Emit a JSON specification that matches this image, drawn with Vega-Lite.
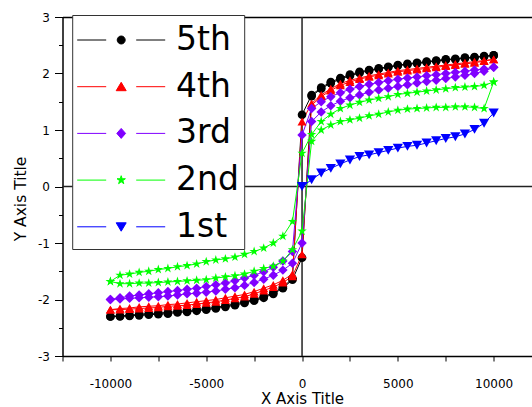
{
"$schema":"https://vega.github.io/schema/vega-lite/v6.json",
"width":469.5,"height":339,
"autosize":{"type":"none"},
"padding":{"left":62.5,"top":17,"right":0,"bottom":51},
"background":"white",
"config":{"view":{"stroke":null},"font":"DejaVu Sans",
 "legend":{"orient":"none","legendX":9.7,"legendY":-2,"fillColor":"white","strokeColor":"#333","strokeWidth":1,"padding":4.5,"symbolSize":1600,"symbolStrokeWidth":1,"labelFont":"DejaVu Sans","labelFontSize":33,"labelColor":"black","labelOffset":58.3,"rowPadding":8.7,"symbolOpacity":1}},
"datasets":{
"zero":[{"z":0}],
"leg":[{"s":"5th"},{"s":"4th"},{"s":"3rd"},{"s":"2nd"},{"s":"1st"}],
"pts":[
{"s":"5th","b":"d","x":10000,"y":2.32},{"s":"5th","b":"d","x":9500,"y":2.31},{"s":"5th","b":"d","x":9000,"y":2.29},{"s":"5th","b":"d","x":8500,"y":2.28},{"s":"5th","b":"d","x":8000,"y":2.26},{"s":"5th","b":"d","x":7500,"y":2.25},{"s":"5th","b":"d","x":7000,"y":2.23},{"s":"5th","b":"d","x":6500,"y":2.21},{"s":"5th","b":"d","x":6000,"y":2.19},{"s":"5th","b":"d","x":5500,"y":2.17},{"s":"5th","b":"d","x":5000,"y":2.15},{"s":"5th","b":"d","x":4500,"y":2.12},{"s":"5th","b":"d","x":4000,"y":2.09},{"s":"5th","b":"d","x":3500,"y":2.06},{"s":"5th","b":"d","x":3000,"y":2.03},{"s":"5th","b":"d","x":2500,"y":1.98},{"s":"5th","b":"d","x":2000,"y":1.92},{"s":"5th","b":"d","x":1500,"y":1.85},{"s":"5th","b":"d","x":1000,"y":1.75},{"s":"5th","b":"d","x":500,"y":1.62},{"s":"5th","b":"d","x":0,"y":1.27},{"s":"5th","b":"d","x":-500,"y":-1.63},{"s":"5th","b":"d","x":-1000,"y":-1.78},{"s":"5th","b":"d","x":-1500,"y":-1.88},{"s":"5th","b":"d","x":-2000,"y":-1.95},{"s":"5th","b":"d","x":-2500,"y":-2.0},{"s":"5th","b":"d","x":-3000,"y":-2.04},{"s":"5th","b":"d","x":-3500,"y":-2.08},{"s":"5th","b":"d","x":-4000,"y":-2.11},{"s":"5th","b":"d","x":-4500,"y":-2.14},{"s":"5th","b":"d","x":-5000,"y":-2.16},{"s":"5th","b":"d","x":-5500,"y":-2.18},{"s":"5th","b":"d","x":-6000,"y":-2.2},{"s":"5th","b":"d","x":-6500,"y":-2.21},{"s":"5th","b":"d","x":-7000,"y":-2.23},{"s":"5th","b":"d","x":-7500,"y":-2.24},{"s":"5th","b":"d","x":-8000,"y":-2.25},{"s":"5th","b":"d","x":-8500,"y":-2.26},{"s":"5th","b":"d","x":-9000,"y":-2.28},{"s":"5th","b":"d","x":-9500,"y":-2.29},{"s":"5th","b":"d","x":-10000,"y":-2.3},
{"s":"5th","b":"a","x":-10000,"y":-2.3},{"s":"5th","b":"a","x":-9500,"y":-2.3},{"s":"5th","b":"a","x":-9000,"y":-2.29},{"s":"5th","b":"a","x":-8500,"y":-2.28},{"s":"5th","b":"a","x":-8000,"y":-2.27},{"s":"5th","b":"a","x":-7500,"y":-2.26},{"s":"5th","b":"a","x":-7000,"y":-2.25},{"s":"5th","b":"a","x":-6500,"y":-2.23},{"s":"5th","b":"a","x":-6000,"y":-2.22},{"s":"5th","b":"a","x":-5500,"y":-2.2},{"s":"5th","b":"a","x":-5000,"y":-2.18},{"s":"5th","b":"a","x":-4500,"y":-2.16},{"s":"5th","b":"a","x":-4000,"y":-2.13},{"s":"5th","b":"a","x":-3500,"y":-2.1},{"s":"5th","b":"a","x":-3000,"y":-2.06},{"s":"5th","b":"a","x":-2500,"y":-2.02},{"s":"5th","b":"a","x":-2000,"y":-1.97},{"s":"5th","b":"a","x":-1500,"y":-1.9},{"s":"5th","b":"a","x":-1000,"y":-1.8},{"s":"5th","b":"a","x":-500,"y":-1.65},{"s":"5th","b":"a","x":0,"y":-1.26},{"s":"5th","b":"a","x":500,"y":1.6},{"s":"5th","b":"a","x":1000,"y":1.73},{"s":"5th","b":"a","x":1500,"y":1.83},{"s":"5th","b":"a","x":2000,"y":1.9},{"s":"5th","b":"a","x":2500,"y":1.96},{"s":"5th","b":"a","x":3000,"y":2.01},{"s":"5th","b":"a","x":3500,"y":2.05},{"s":"5th","b":"a","x":4000,"y":2.08},{"s":"5th","b":"a","x":4500,"y":2.11},{"s":"5th","b":"a","x":5000,"y":2.14},{"s":"5th","b":"a","x":5500,"y":2.16},{"s":"5th","b":"a","x":6000,"y":2.18},{"s":"5th","b":"a","x":6500,"y":2.2},{"s":"5th","b":"a","x":7000,"y":2.22},{"s":"5th","b":"a","x":7500,"y":2.24},{"s":"5th","b":"a","x":8000,"y":2.25},{"s":"5th","b":"a","x":8500,"y":2.27},{"s":"5th","b":"a","x":9000,"y":2.28},{"s":"5th","b":"a","x":9500,"y":2.3},{"s":"5th","b":"a","x":10000,"y":2.32},
{"s":"4th","b":"d","x":10000,"y":2.25},{"s":"4th","b":"d","x":9500,"y":2.23},{"s":"4th","b":"d","x":9000,"y":2.21},{"s":"4th","b":"d","x":8500,"y":2.19},{"s":"4th","b":"d","x":8000,"y":2.17},{"s":"4th","b":"d","x":7500,"y":2.15},{"s":"4th","b":"d","x":7000,"y":2.13},{"s":"4th","b":"d","x":6500,"y":2.11},{"s":"4th","b":"d","x":6000,"y":2.09},{"s":"4th","b":"d","x":5500,"y":2.07},{"s":"4th","b":"d","x":5000,"y":2.05},{"s":"4th","b":"d","x":4500,"y":2.02},{"s":"4th","b":"d","x":4000,"y":1.99},{"s":"4th","b":"d","x":3500,"y":1.96},{"s":"4th","b":"d","x":3000,"y":1.92},{"s":"4th","b":"d","x":2500,"y":1.88},{"s":"4th","b":"d","x":2000,"y":1.82},{"s":"4th","b":"d","x":1500,"y":1.73},{"s":"4th","b":"d","x":1000,"y":1.62},{"s":"4th","b":"d","x":500,"y":1.47},{"s":"4th","b":"d","x":0,"y":1.15},{"s":"4th","b":"d","x":-500,"y":-1.55},{"s":"4th","b":"d","x":-1000,"y":-1.66},{"s":"4th","b":"d","x":-1500,"y":-1.74},{"s":"4th","b":"d","x":-2000,"y":-1.8},{"s":"4th","b":"d","x":-2500,"y":-1.86},{"s":"4th","b":"d","x":-3000,"y":-1.91},{"s":"4th","b":"d","x":-3500,"y":-1.94},{"s":"4th","b":"d","x":-4000,"y":-1.97},{"s":"4th","b":"d","x":-4500,"y":-2.0},{"s":"4th","b":"d","x":-5000,"y":-2.02},{"s":"4th","b":"d","x":-5500,"y":-2.04},{"s":"4th","b":"d","x":-6000,"y":-2.06},{"s":"4th","b":"d","x":-6500,"y":-2.08},{"s":"4th","b":"d","x":-7000,"y":-2.09},{"s":"4th","b":"d","x":-7500,"y":-2.11},{"s":"4th","b":"d","x":-8000,"y":-2.12},{"s":"4th","b":"d","x":-8500,"y":-2.13},{"s":"4th","b":"d","x":-9000,"y":-2.15},{"s":"4th","b":"d","x":-9500,"y":-2.16},{"s":"4th","b":"d","x":-10000,"y":-2.18},
{"s":"4th","b":"a","x":-10000,"y":-2.18},{"s":"4th","b":"a","x":-9500,"y":-2.18},{"s":"4th","b":"a","x":-9000,"y":-2.17},{"s":"4th","b":"a","x":-8500,"y":-2.16},{"s":"4th","b":"a","x":-8000,"y":-2.15},{"s":"4th","b":"a","x":-7500,"y":-2.14},{"s":"4th","b":"a","x":-7000,"y":-2.12},{"s":"4th","b":"a","x":-6500,"y":-2.11},{"s":"4th","b":"a","x":-6000,"y":-2.1},{"s":"4th","b":"a","x":-5500,"y":-2.08},{"s":"4th","b":"a","x":-5000,"y":-2.06},{"s":"4th","b":"a","x":-4500,"y":-2.04},{"s":"4th","b":"a","x":-4000,"y":-2.01},{"s":"4th","b":"a","x":-3500,"y":-1.98},{"s":"4th","b":"a","x":-3000,"y":-1.95},{"s":"4th","b":"a","x":-2500,"y":-1.9},{"s":"4th","b":"a","x":-2000,"y":-1.84},{"s":"4th","b":"a","x":-1500,"y":-1.78},{"s":"4th","b":"a","x":-1000,"y":-1.7},{"s":"4th","b":"a","x":-500,"y":-1.59},{"s":"4th","b":"a","x":0,"y":-1.2},{"s":"4th","b":"a","x":500,"y":1.44},{"s":"4th","b":"a","x":1000,"y":1.59},{"s":"4th","b":"a","x":1500,"y":1.7},{"s":"4th","b":"a","x":2000,"y":1.79},{"s":"4th","b":"a","x":2500,"y":1.85},{"s":"4th","b":"a","x":3000,"y":1.9},{"s":"4th","b":"a","x":3500,"y":1.94},{"s":"4th","b":"a","x":4000,"y":1.97},{"s":"4th","b":"a","x":4500,"y":2.0},{"s":"4th","b":"a","x":5000,"y":2.03},{"s":"4th","b":"a","x":5500,"y":2.05},{"s":"4th","b":"a","x":6000,"y":2.07},{"s":"4th","b":"a","x":6500,"y":2.09},{"s":"4th","b":"a","x":7000,"y":2.11},{"s":"4th","b":"a","x":7500,"y":2.13},{"s":"4th","b":"a","x":8000,"y":2.15},{"s":"4th","b":"a","x":8500,"y":2.17},{"s":"4th","b":"a","x":9000,"y":2.19},{"s":"4th","b":"a","x":9500,"y":2.22},{"s":"4th","b":"a","x":10000,"y":2.25},
{"s":"3rd","b":"d","x":10000,"y":2.11},{"s":"3rd","b":"d","x":9500,"y":2.08},{"s":"3rd","b":"d","x":9000,"y":2.06},{"s":"3rd","b":"d","x":8500,"y":2.04},{"s":"3rd","b":"d","x":8000,"y":2.02},{"s":"3rd","b":"d","x":7500,"y":2.0},{"s":"3rd","b":"d","x":7000,"y":1.98},{"s":"3rd","b":"d","x":6500,"y":1.96},{"s":"3rd","b":"d","x":6000,"y":1.94},{"s":"3rd","b":"d","x":5500,"y":1.92},{"s":"3rd","b":"d","x":5000,"y":1.9},{"s":"3rd","b":"d","x":4500,"y":1.87},{"s":"3rd","b":"d","x":4000,"y":1.84},{"s":"3rd","b":"d","x":3500,"y":1.81},{"s":"3rd","b":"d","x":3000,"y":1.77},{"s":"3rd","b":"d","x":2500,"y":1.72},{"s":"3rd","b":"d","x":2000,"y":1.66},{"s":"3rd","b":"d","x":1500,"y":1.59},{"s":"3rd","b":"d","x":1000,"y":1.5},{"s":"3rd","b":"d","x":500,"y":1.38},{"s":"3rd","b":"d","x":0,"y":0.91},{"s":"3rd","b":"d","x":-500,"y":-1.15},{"s":"3rd","b":"d","x":-1000,"y":-1.32},{"s":"3rd","b":"d","x":-1500,"y":-1.43},{"s":"3rd","b":"d","x":-2000,"y":-1.51},{"s":"3rd","b":"d","x":-2500,"y":-1.57},{"s":"3rd","b":"d","x":-3000,"y":-1.62},{"s":"3rd","b":"d","x":-3500,"y":-1.67},{"s":"3rd","b":"d","x":-4000,"y":-1.71},{"s":"3rd","b":"d","x":-4500,"y":-1.74},{"s":"3rd","b":"d","x":-5000,"y":-1.77},{"s":"3rd","b":"d","x":-5500,"y":-1.8},{"s":"3rd","b":"d","x":-6000,"y":-1.82},{"s":"3rd","b":"d","x":-6500,"y":-1.84},{"s":"3rd","b":"d","x":-7000,"y":-1.86},{"s":"3rd","b":"d","x":-7500,"y":-1.88},{"s":"3rd","b":"d","x":-8000,"y":-1.9},{"s":"3rd","b":"d","x":-8500,"y":-1.92},{"s":"3rd","b":"d","x":-9000,"y":-1.94},{"s":"3rd","b":"d","x":-9500,"y":-1.97},{"s":"3rd","b":"d","x":-10000,"y":-2.0},
{"s":"3rd","b":"a","x":-10000,"y":-2.0},{"s":"3rd","b":"a","x":-9500,"y":-1.99},{"s":"3rd","b":"a","x":-9000,"y":-1.98},{"s":"3rd","b":"a","x":-8500,"y":-1.97},{"s":"3rd","b":"a","x":-8000,"y":-1.96},{"s":"3rd","b":"a","x":-7500,"y":-1.95},{"s":"3rd","b":"a","x":-7000,"y":-1.94},{"s":"3rd","b":"a","x":-6500,"y":-1.92},{"s":"3rd","b":"a","x":-6000,"y":-1.9},{"s":"3rd","b":"a","x":-5500,"y":-1.89},{"s":"3rd","b":"a","x":-5000,"y":-1.87},{"s":"3rd","b":"a","x":-4500,"y":-1.85},{"s":"3rd","b":"a","x":-4000,"y":-1.82},{"s":"3rd","b":"a","x":-3500,"y":-1.79},{"s":"3rd","b":"a","x":-3000,"y":-1.75},{"s":"3rd","b":"a","x":-2500,"y":-1.7},{"s":"3rd","b":"a","x":-2000,"y":-1.64},{"s":"3rd","b":"a","x":-1500,"y":-1.57},{"s":"3rd","b":"a","x":-1000,"y":-1.48},{"s":"3rd","b":"a","x":-500,"y":-1.36},{"s":"3rd","b":"a","x":0,"y":-1.0},{"s":"3rd","b":"a","x":500,"y":1.15},{"s":"3rd","b":"a","x":1000,"y":1.32},{"s":"3rd","b":"a","x":1500,"y":1.43},{"s":"3rd","b":"a","x":2000,"y":1.51},{"s":"3rd","b":"a","x":2500,"y":1.57},{"s":"3rd","b":"a","x":3000,"y":1.62},{"s":"3rd","b":"a","x":3500,"y":1.67},{"s":"3rd","b":"a","x":4000,"y":1.71},{"s":"3rd","b":"a","x":4500,"y":1.74},{"s":"3rd","b":"a","x":5000,"y":1.77},{"s":"3rd","b":"a","x":5500,"y":1.8},{"s":"3rd","b":"a","x":6000,"y":1.83},{"s":"3rd","b":"a","x":6500,"y":1.86},{"s":"3rd","b":"a","x":7000,"y":1.88},{"s":"3rd","b":"a","x":7500,"y":1.91},{"s":"3rd","b":"a","x":8000,"y":1.94},{"s":"3rd","b":"a","x":8500,"y":1.97},{"s":"3rd","b":"a","x":9000,"y":2.0},{"s":"3rd","b":"a","x":9500,"y":2.04},{"s":"3rd","b":"a","x":10000,"y":2.11},
{"s":"2nd","b":"d","x":10000,"y":1.85},{"s":"2nd","b":"d","x":9500,"y":1.79},{"s":"2nd","b":"d","x":9000,"y":1.77},{"s":"2nd","b":"d","x":8500,"y":1.76},{"s":"2nd","b":"d","x":8000,"y":1.75},{"s":"2nd","b":"d","x":7500,"y":1.73},{"s":"2nd","b":"d","x":7000,"y":1.71},{"s":"2nd","b":"d","x":6500,"y":1.69},{"s":"2nd","b":"d","x":6000,"y":1.67},{"s":"2nd","b":"d","x":5500,"y":1.65},{"s":"2nd","b":"d","x":5000,"y":1.63},{"s":"2nd","b":"d","x":4500,"y":1.59},{"s":"2nd","b":"d","x":4000,"y":1.56},{"s":"2nd","b":"d","x":3500,"y":1.53},{"s":"2nd","b":"d","x":3000,"y":1.49},{"s":"2nd","b":"d","x":2500,"y":1.44},{"s":"2nd","b":"d","x":2000,"y":1.38},{"s":"2nd","b":"d","x":1500,"y":1.28},{"s":"2nd","b":"d","x":1000,"y":1.15},{"s":"2nd","b":"d","x":500,"y":0.92},{"s":"2nd","b":"d","x":0,"y":0.59},{"s":"2nd","b":"d","x":-500,"y":-0.62},{"s":"2nd","b":"d","x":-1000,"y":-0.88},{"s":"2nd","b":"d","x":-1500,"y":-1.0},{"s":"2nd","b":"d","x":-2000,"y":-1.09},{"s":"2nd","b":"d","x":-2500,"y":-1.15},{"s":"2nd","b":"d","x":-3000,"y":-1.2},{"s":"2nd","b":"d","x":-3500,"y":-1.25},{"s":"2nd","b":"d","x":-4000,"y":-1.28},{"s":"2nd","b":"d","x":-4500,"y":-1.3},{"s":"2nd","b":"d","x":-5000,"y":-1.33},{"s":"2nd","b":"d","x":-5500,"y":-1.37},{"s":"2nd","b":"d","x":-6000,"y":-1.4},{"s":"2nd","b":"d","x":-6500,"y":-1.42},{"s":"2nd","b":"d","x":-7000,"y":-1.45},{"s":"2nd","b":"d","x":-7500,"y":-1.47},{"s":"2nd","b":"d","x":-8000,"y":-1.5},{"s":"2nd","b":"d","x":-8500,"y":-1.52},{"s":"2nd","b":"d","x":-9000,"y":-1.55},{"s":"2nd","b":"d","x":-9500,"y":-1.57},{"s":"2nd","b":"d","x":-10000,"y":-1.68},
{"s":"2nd","b":"a","x":-10000,"y":-1.68},{"s":"2nd","b":"a","x":-9500,"y":-1.72},{"s":"2nd","b":"a","x":-9000,"y":-1.72},{"s":"2nd","b":"a","x":-8500,"y":-1.71},{"s":"2nd","b":"a","x":-8000,"y":-1.71},{"s":"2nd","b":"a","x":-7500,"y":-1.7},{"s":"2nd","b":"a","x":-7000,"y":-1.69},{"s":"2nd","b":"a","x":-6500,"y":-1.68},{"s":"2nd","b":"a","x":-6000,"y":-1.67},{"s":"2nd","b":"a","x":-5500,"y":-1.66},{"s":"2nd","b":"a","x":-5000,"y":-1.65},{"s":"2nd","b":"a","x":-4500,"y":-1.62},{"s":"2nd","b":"a","x":-4000,"y":-1.6},{"s":"2nd","b":"a","x":-3500,"y":-1.58},{"s":"2nd","b":"a","x":-3000,"y":-1.55},{"s":"2nd","b":"a","x":-2500,"y":-1.5},{"s":"2nd","b":"a","x":-2000,"y":-1.45},{"s":"2nd","b":"a","x":-1500,"y":-1.41},{"s":"2nd","b":"a","x":-1000,"y":-1.32},{"s":"2nd","b":"a","x":-500,"y":-1.12},{"s":"2nd","b":"a","x":0,"y":-0.79},{"s":"2nd","b":"a","x":500,"y":0.8},{"s":"2nd","b":"a","x":1000,"y":1.0},{"s":"2nd","b":"a","x":1500,"y":1.09},{"s":"2nd","b":"a","x":2000,"y":1.15},{"s":"2nd","b":"a","x":2500,"y":1.18},{"s":"2nd","b":"a","x":3000,"y":1.21},{"s":"2nd","b":"a","x":3500,"y":1.25},{"s":"2nd","b":"a","x":4000,"y":1.28},{"s":"2nd","b":"a","x":4500,"y":1.32},{"s":"2nd","b":"a","x":5000,"y":1.35},{"s":"2nd","b":"a","x":5500,"y":1.37},{"s":"2nd","b":"a","x":6000,"y":1.38},{"s":"2nd","b":"a","x":6500,"y":1.39},{"s":"2nd","b":"a","x":7000,"y":1.4},{"s":"2nd","b":"a","x":7500,"y":1.4},{"s":"2nd","b":"a","x":8000,"y":1.41},{"s":"2nd","b":"a","x":8500,"y":1.41},{"s":"2nd","b":"a","x":9000,"y":1.4},{"s":"2nd","b":"a","x":9500,"y":1.38},{"s":"2nd","b":"a","x":10000,"y":1.85},
{"s":"1st","b":"a","x":0,"y":0.0},{"s":"1st","b":"a","x":500,"y":0.12},{"s":"1st","b":"a","x":1000,"y":0.24},{"s":"1st","b":"a","x":1500,"y":0.32},{"s":"1st","b":"a","x":2000,"y":0.4},{"s":"1st","b":"a","x":2500,"y":0.47},{"s":"1st","b":"a","x":3000,"y":0.53},{"s":"1st","b":"a","x":3500,"y":0.56},{"s":"1st","b":"a","x":4000,"y":0.6},{"s":"1st","b":"a","x":4500,"y":0.64},{"s":"1st","b":"a","x":5000,"y":0.68},{"s":"1st","b":"a","x":5500,"y":0.71},{"s":"1st","b":"a","x":6000,"y":0.73},{"s":"1st","b":"a","x":6500,"y":0.77},{"s":"1st","b":"a","x":7000,"y":0.81},{"s":"1st","b":"a","x":7500,"y":0.85},{"s":"1st","b":"a","x":8000,"y":0.88},{"s":"1st","b":"a","x":8500,"y":0.93},{"s":"1st","b":"a","x":9000,"y":1.01},{"s":"1st","b":"a","x":9500,"y":1.12},{"s":"1st","b":"a","x":10000,"y":1.3}
]},
"layer":[
 {"data":{"name":"zero"},"mark":{"type":"rule","color":"#222","strokeWidth":1.5},
  "encoding":{"y":{"field":"z","type":"quantitative","scale":{"domain":[-3,3],"nice":false},"axis":null}}},
 {"data":{"name":"zero"},"mark":{"type":"rule","color":"#222","strokeWidth":1.5},
  "encoding":{"x":{"field":"z","type":"quantitative","scale":{"domain":[-12500,12000],"nice":false,"zero":false},
   "axis":{"orient":"top","domain":true,"domainColor":"black","domainWidth":1.5,"ticks":false,"labels":false,"title":null,"grid":false}}}},
 {"data":{"name":"pts"},"mark":{"type":"line","strokeWidth":1},
  "encoding":{"x":{"field":"x","type":"quantitative","axis":null},"y":{"field":"y","type":"quantitative","axis":null},
   "color":{"field":"s","type":"nominal","scale":{"domain":["5th","4th","3rd","2nd","1st"],"range":["#000000","#ff0000","#8000ff","#00ff00","#0000ff"]},"legend":null},
   "detail":{"field":"b","type":"nominal"}}},
 {"data":{"name":"pts"},"mark":{"type":"point","filled":true,"opacity":1},
  "encoding":{
   "x":{"field":"x","type":"quantitative","axis":{"orient":"bottom","values":[-12500,-10000,-7500,-5000,-2500,0,2500,5000,7500,10000],"labelExpr":"datum.value % 5000 === 0 ? '' + datum.value : ''","grid":false,"tickSize":5,"tickColor":"black","domainColor":"black","domainWidth":1.5,"labelPadding":17,"labelFont":"DejaVu Sans","labelFontSize":12,"labelColor":"black","labelFlush":false,"labelOverlap":false,"title":"X Axis Title","titleFont":"DejaVu Sans","titleFontSize":15,"titleFontWeight":"normal","titleColor":"black","titleX":239.5,"titleY":47.8,"titleBaseline":"alphabetic","titleAlign":"center"}},
   "y":{"field":"y","type":"quantitative","axis":{"orient":"left","values":[-3,-2.5,-2,-1.5,-1,-0.5,0,0.5,1,1.5,2,2.5,3],"labelExpr":"datum.value % 1 === 0 ? '' + datum.value : ''","grid":false,"tickSize":{"condition":{"test":"datum.value % 1 === 0","value":8},"value":4},"tickColor":"black","domainColor":"black","domainWidth":1.5,"labelPadding":5,"labelFont":"DejaVu Sans","labelFontSize":12,"labelColor":"black","labelFlush":false,"labelOverlap":false,"title":"Y Axis Title","titleFont":"DejaVu Sans","titleFontSize":15.5,"titleFontWeight":"normal","titleColor":"black","titleAngle":270,"titleX":-37.5,"titleY":181.5,"titleBaseline":"alphabetic","titleAlign":"center"}},
   "color":{"field":"s","type":"nominal","legend":null},
   "shape":{"field":"s","type":"nominal","scale":{"domain":["5th","4th","3rd","2nd","1st"],"range":["circle","triangle-up","diamond","M0,-1L0.224,-0.309L0.951,-0.309L0.363,0.118L0.588,0.809L0,0.382L-0.588,0.809L-0.363,0.118L-0.951,-0.309L-0.224,-0.309Z","triangle-down"]},"legend":null},
   "size":{"field":"s","type":"nominal","scale":{"domain":["5th","4th","3rd","2nd","1st"],"range":[75,105,105,125,105]},"legend":null}}},
 {"data":{"name":"leg"},"mark":{"type":"point","filled":true},
  "encoding":{
   "size":{"value":0},
   "fill":{"field":"s","type":"nominal","scale":{"domain":["5th","4th","3rd","2nd","1st"],"range":["#000000","#ff0000","#8000ff","#00ff00","#0000ff"]},"legend":{"title":null}},
   "stroke":{"field":"s","type":"nominal","scale":{"domain":["5th","4th","3rd","2nd","1st"],"range":["#000000","#ff0000","#8000ff","#00ff00","#0000ff"]},"legend":{"title":null}},
   "shape":{"field":"s","type":"nominal","scale":{"domain":["5th","4th","3rd","2nd","1st"],"range":[
    "M-1,0L0.45,0M1.95,0L3.4,0M1.0,0A0.2,0.2,0,1,1,1.4,0A0.2,0.2,0,1,1,1.0,0Z",
    "M-1,0L0.45,0M1.95,0L3.4,0M1.2,-0.22L1.45,0.2L0.95,0.2Z",
    "M-1,0L0.45,0M1.95,0L3.4,0M1.2,-0.25L1.42,0L1.2,0.25L0.98,0Z",
    "M-1,0L0.45,0M1.95,0L3.4,0M1.2,-0.22L1.249,-0.068L1.409,-0.068L1.28,0.026L1.329,0.178L1.2,0.084L1.071,0.178L1.12,0.026L0.991,-0.068L1.151,-0.068Z",
    "M-1,0L0.45,0M1.95,0L3.4,0M1.2,0.22L1.45,-0.2L0.95,-0.2Z"]},"legend":{"title":null}}}}
],
"resolve":{"scale":{"shape":"independent","size":"independent","fill":"independent","stroke":"independent"},"axis":{"x":"independent","y":"independent"}}
}
